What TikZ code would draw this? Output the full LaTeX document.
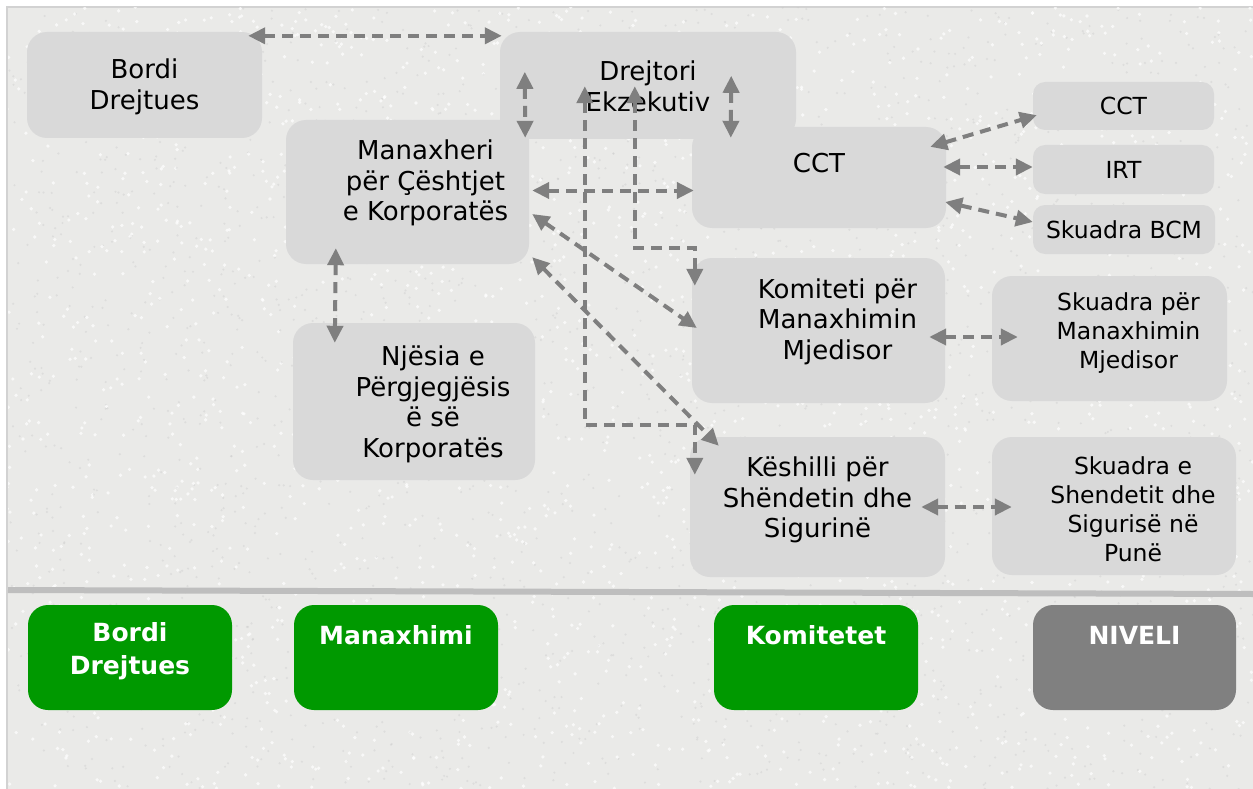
\documentclass[tikz,border=0pt]{standalone}
\usepackage{fontspec}
\setmainfont{DejaVu Sans}
\usetikzlibrary{arrows.meta}
\usetikzlibrary{calc}

\definecolor{bgpaper}{RGB}{234,234,232}
\definecolor{boxgray}{HTML}{D9D9D9}
\definecolor{linkgray}{HTML}{7F7F7F}
\definecolor{lvlgreen}{HTML}{009900}
\definecolor{lvlgray}{HTML}{808080}
\definecolor{sepgray}{RGB}{190,190,190}

\tikzset{
  box/.style={fill=boxgray, rounded corners=20pt, inner sep=0pt},
  smallbox/.style={box, rounded corners=12pt},
  txt/.style={align=center, inner sep=0pt, font=\fontsize{26}{30.5}\selectfont},
  smalltxt/.style={align=center, inner sep=0pt, font=\fontsize{23.5}{29}\selectfont},
  lvl/.style={box, fill=lvlgreen},
  lvltxt/.style={align=center, inner sep=0pt, text=white, font=\bfseries\fontsize{25}{33}\selectfont},
  link/.style={draw=linkgray, line width=4pt, dash pattern=on 11pt off 7pt,
    {Triangle[length=17pt,width=16pt]}-{Triangle[length=17pt,width=16pt]}},
}

\begin{document}
\begin{tikzpicture}[x=1pt, y=-1pt]
    \useasboundingbox (0,0) rectangle (1253,789);
    \fill[white] (0,0) rectangle (1253,789);
    \draw[fill=bgpaper, draw=gray!35, line width=1.5pt] (7,7) rectangle (1256,792);
    % paper grain
    \begin{scope}
        \clip (8,8) rectangle (1253,789);
        \pgfmathsetseed{7}
        \foreach \i in {1,...,2200} {
            \fill[white, opacity=0.7] ({rnd*1246+7},{rnd*782+7}) circle (1.8);
            \fill[gray!45, opacity=0.35] ({rnd*1246+7},{rnd*782+7}) circle (1.2);
        }
    \end{scope}
    \draw[sepgray, line width=6pt] (8,590) -- (1253,594);

    % upper chart
    \node[box, minimum width=235pt, minimum height=106pt,
      label={[txt, yshift=-2pt]center:Bordi\\Drejtues}] (bordi) at (144.5,85) {};
    \node[box, minimum width=296pt, minimum height=107pt,
      label={[txt, yshift=-1pt]center:Drejtori\\Ekzekutiv}] (drejtori) at (648,85.5) {};
    \node[box, minimum width=243pt, minimum height=144pt,
      label={[txt, xshift=18pt, yshift=9pt]center:Manaxheri\\për Çështjet\\e Korporatës}] (mgr) at (407.5,192) {};
    \node[box, minimum width=254pt, minimum height=101pt,
      label={[txt, yshift=14pt]center:CCT}] (cct) at (819,177.5) {};
    \node[smallbox, minimum width=181pt, minimum height=48pt,
      label={[smalltxt]center:CCT}] (cctb) at (1123.5,106) {};
    \node[smallbox, minimum width=181pt, minimum height=49pt,
      label={[smalltxt]center:IRT}] (irt) at (1123.5,169.5) {};
    \node[smallbox, minimum width=182pt, minimum height=49pt,
      label={[smalltxt]center:Skuadra BCM}] (bcm) at (1124,229.5) {};
    \node[box, minimum width=253pt, minimum height=145pt,
      label={[txt, xshift=19pt, yshift=9pt]center:Komiteti për\\Manaxhimin\\Mjedisor}] (kom) at (818.5,330.5) {};
    \node[box, minimum width=235pt, minimum height=125pt,
      label={[smalltxt, xshift=19pt, yshift=5pt]center:Skuadra për\\Manaxhimin\\Mjedisor}] (skm) at (1109.5,338.5) {};
    \node[box, minimum width=242pt, minimum height=157pt,
      label={[txt, xshift=19pt, yshift=-3pt]center:Njësia e\\Përgjegjësis\\ë së\\Korporatës}] (njs) at (414,401.5) {};
    \node[box, minimum width=255pt, minimum height=140pt,
      label={[txt, yshift=7pt]center:Këshilli për\\Shëndetin dhe\\Sigurinë}] (ksh) at (817.5,507) {};
    \node[box, minimum width=244pt, minimum height=138pt,
      label={[smalltxt, xshift=19pt, yshift=-3.5pt]center:Skuadra e\\Shendetit dhe\\Sigurisë në\\Punë}] (sks) at (1114,506) {};

    % levels
    \node[lvl, minimum width=204pt, minimum height=105pt,
      label={[lvltxt, yshift=6pt]center:Bordi\\Drejtues}] (lvbordi) at (130,657.5) {};
    \node[lvl, minimum width=204pt, minimum height=105pt,
      label={[lvltxt, yshift=22.5pt]center:Manaxhimi}] (lvmgr) at (396,657.5) {};
    \node[lvl, minimum width=204pt, minimum height=105pt,
      label={[lvltxt, yshift=22.5pt]center:Komitetet}] (lvkom) at (816,657.5) {};
    \node[lvl, fill=lvlgray, minimum width=203pt, minimum height=105pt,
      label={[lvltxt, yshift=22.5pt]center:NIVELI}] (lvniv) at (1134.5,657.5) {};

    % links
    \draw[link] ($(bordi.north east)+(-14,4)$) -- ($(drejtori.north west)+(2,4)$);
    \draw[link] ($(drejtori.north west)+(25,40)$) -- ($(mgr.north east)+(-4,18)$);
    \draw[link] ($(drejtori.north east)+(-65,44)$) -- ($(cct.north west)+(39,11)$);
    \draw[link] ($(mgr.east)+(3,-1.5)$) -- ($(cct.west)+(2,13)$);
    \draw[link] ($(drejtori.south west)+(85,-53)$) |- ($(ksh.north west)+(5,-12)$) -- ($(ksh.north west)+(5,38)$);
    \draw[link] ($(drejtori.south west)+(135,-53)$) |- ($(kom.north west)+(3,-10)$) -- ($(kom.north west)+(3,28)$);
    \draw[link] ($(mgr.east)+(3,22)$) -- ($(kom.west)+(5,-2.5)$);
    \draw[link] ($(mgr.south east)+(3,-7)$) -- ($(ksh.north west)+(29,9)$);
    \draw[link] ($(mgr.south west)+(50,-16)$) -- ($(njs.north west)+(42,20)$);
    \draw[link] ($(cct.north east)+(-16,20)$) -- ($(cctb.south west)+(4,-15)$);
    \draw[link] ($(cct.east)+(-3,-10.5)$) -- ($(irt.west)+(0,-2.5)$);
    \draw[link] ($(cct.east)+(-1,24.5)$) -- ($(bcm.west)+(0,-7.5)$);
    \draw[link] ($(kom.east)+(-16,6.5)$) -- ($(skm.west)+(26,-1.5)$);
    \draw[link] ($(ksh.east)+(-24,0)$) -- ($(sks.west)+(20,1)$);
\end{tikzpicture}
\end{document}
